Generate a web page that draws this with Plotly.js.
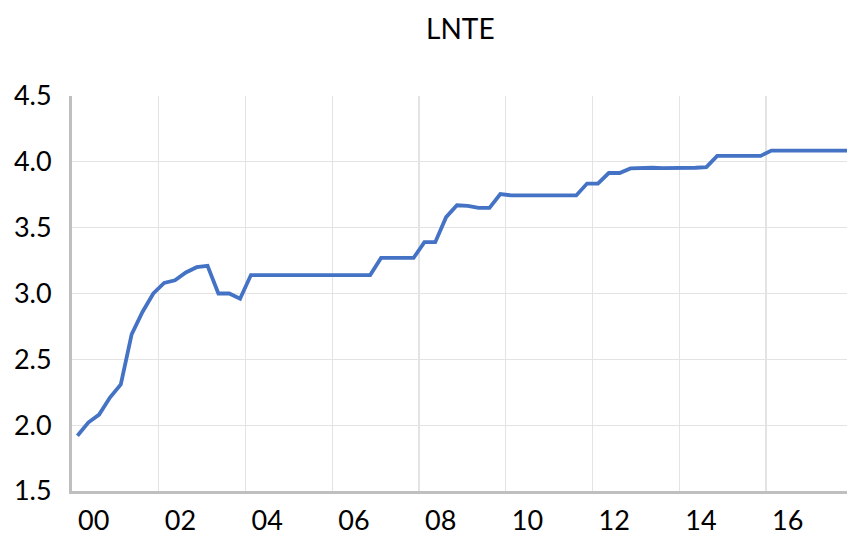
<!DOCTYPE html>
<html>
<head>
<meta charset="utf-8">
<script src="https://cdn.plot.ly/plotly-3.0.1.min.js"></script>
<style>html,body{margin:0;padding:0;background:#fff}#chart{width:847px;height:538px}</style>
</head>
<body>
<div id="chart"></div>
<script>
// Quarterly LNTE values, one per quarter from the first point
const lnteValues = [
  1.92, 2.02, 2.08, 2.21, 2.31, 2.69, 2.86, 3.00,
  3.08, 3.10, 3.16, 3.20, 3.21, 3.00, 3.00, 2.96,
  3.14, 3.14, 3.14, 3.14, 3.14, 3.14, 3.14, 3.14,
  3.14, 3.14, 3.14, 3.14, 3.27, 3.27, 3.27, 3.27,
  3.39, 3.39, 3.58, 3.67, 3.665, 3.65, 3.65, 3.755,
  3.745, 3.745, 3.745, 3.745, 3.745, 3.745, 3.745, 3.835,
  3.835, 3.915, 3.915, 3.95, 3.955, 3.955, 3.952, 3.952,
  3.952, 3.955, 3.96, 4.045, 4.045, 4.045, 4.045, 4.045,
  4.085, 4.085, 4.085, 4.085, 4.085, 4.085, 4.085, 4.085
];
// Year tick labels, one every 8 quarters
const yearLabels = ["00", "02", "04", "06", "08", "10", "12", "14", "16"];
const yTickValues = [1.5, 2.0, 2.5, 3.0, 3.5, 4.0, 4.5];
const yTickLabels = ["1.5", "2.0", "2.5", "3.0", "3.5", "4.0", "4.5"];

const xIdx = lnteValues.map((_, i) => i);
const labelPos = yearLabels.map((_, k) => 1.5 + 8 * k);
const gridPos = yearLabels.map((_, k) => 7.5 + 8 * k);

const FONT = "Lato, 'Open Sans', sans-serif";

Plotly.newPlot("chart", [{
  x: xIdx,
  y: lnteValues,
  type: "scatter",
  mode: "lines",
  line: {color: "#4472C4", width: 3.8},
  hoverinfo: "skip"
}], {
  width: 847,
  height: 538,
  margin: {l: 72, r: 0, t: 96, b: 47},
  paper_bgcolor: "#ffffff",
  plot_bgcolor: "#ffffff",
  showlegend: false,
  title: {
    text: "LNTE",
    font: {family: FONT, size: 28, color: "#000000"},
    x: 0.5435, xanchor: "center",
    y: 0.945, yanchor: "middle"
  },
  xaxis: {
    range: [-0.5, 70.97],
    tickmode: "array",
    tickvals: labelPos,
    ticktext: yearLabels,
    ticks: "",
    showgrid: false,
    zeroline: false,
    showline: true,
    linecolor: "#bfbfbf",
    linewidth: 3,
    ticklabelstandoff: 4,
    tickfont: {family: FONT, size: 27, color: "#000000"},
    minor: {
      tickmode: "array",
      tickvals: gridPos,
      ticks: "",
      showgrid: true,
      gridcolor: "#e3e3e3",
      gridwidth: 1.3
    }
  },
  yaxis: {
    range: [1.5, 4.5],
    tickmode: "array",
    tickvals: yTickValues,
    ticktext: yTickLabels,
    ticks: "",
    showgrid: false,
    zeroline: false,
    showline: true,
    linecolor: "#bfbfbf",
    linewidth: 3,
    ticklabelstandoff: 12,
    tickfont: {family: FONT, size: 27, color: "#000000"},
    minor: {
      tickmode: "array",
      tickvals: [2.0, 2.5, 3.0, 3.5, 4.0],
      ticks: "",
      showgrid: true,
      gridcolor: "#e3e3e3",
      gridwidth: 1.3
    }
  }
}, {displayModeBar: false, staticPlot: true});
</script>
</body>
</html>
